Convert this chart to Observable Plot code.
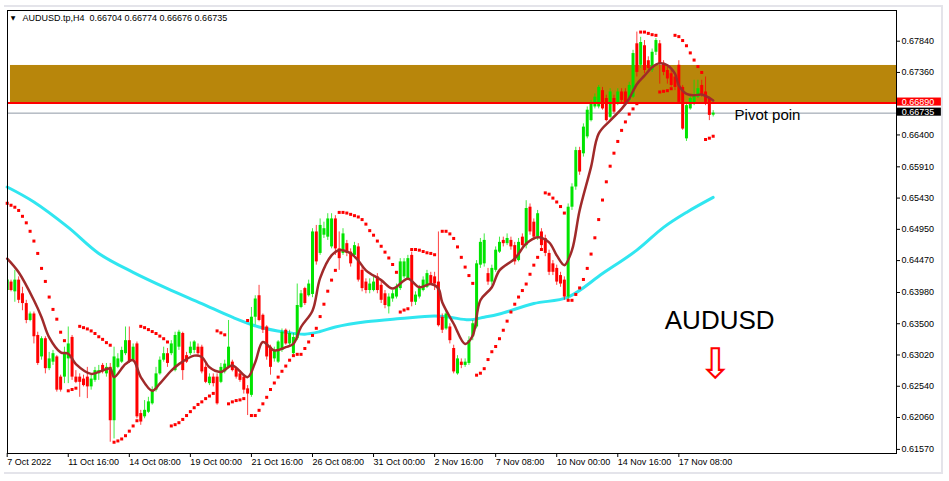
<!DOCTYPE html>
<html><head><meta charset="utf-8">
<script src="https://cdn.jsdelivr.net/npm/d3@7"></script>
<script src="https://cdn.jsdelivr.net/npm/@observablehq/plot@0.6"></script>
<style>
html,body{margin:0;padding:0;background:#fff;}
#wrap{position:relative;width:949px;height:481px;overflow:hidden;background:#fff;}
#frame{position:absolute;left:4px;top:5px;width:937px;height:465px;border-top:2px solid #e4e4ea;border-right:2px solid #e4e4ea;border-bottom:2px solid #e4e4ea;}
#chart{position:absolute;left:0;top:0;}
</style></head><body>
<div id="wrap"><div id="frame"></div><div id="chart"></div></div>
<script>
// ---- data (H4 bars, index 0 = 7 Oct 2022 00:00) ----
const opens = [
.6401,.6414,.6399,.6417,.6396,.6381,.6355,.6365,.6332,.6299,
.6327,.6281,.6291,.6299,.6268,.6268,.6296,.6329,.6268,.6268,
.6265,.6268,.6253,.6263,.6273,.6286,.6273,.6283,.6201,.6283,
.6291,.6304,.6324,.6294,.6319,.6212,.6207,.6214,.6227,.6248,
.6273,.6294,.6304,.6304,.6278,.6314,.6335,.6301,.6304,.6309,
.6314,.6314,.6283,.6258,.6268,.6268,.6260,.6276,.6283,.6291,
.6281,.6273,.6268,.6250,.6240,.6360,.6393,.6363,.6345,.6314,
.6296,.6291,.6309,.6340,.6319,.6304,.6327,.6375,.6404,.6393,
.6395,.6491,.6458,.6486,.6483,.6468,.6511,.6465,.6458,.6473,
.6460,.6455,.6468,.6432,.6414,.6401,.6401,.6422,.6409,.6396,
.6376,.6388,.6391,.6404,.6422,.6419,.6455,.6383,.6391,.6401,
.6406,.6424,.6422,.6414,.6360,.6342,.6345,.6312,.6273,.6291,
.6286,.6289,.6330,.6345,.6440,.6442,.6427,.6414,.6432,.6460,
.6478,.6473,.6478,.6470,.6447,.6483,.6470,.6529,.6506,.6483,
.6491,.6481,.6458,.6442,.6435,.6424,.6417,.6391,.6529,.6560,
.6616,.6611,.6637,.6662,.6683,.6683,.6708,.6696,.6667,.6696,
.6688,.6706,.6706,.6693,.6698,.6780,.6747,.6777,.6754,.6739,
.6767,.6780,.6749,.6739,.6734,.6729,.6747,.6713,.6634,.6680,
.6688,.6698,.6716,.6706,.6696,.66704];
const highs = [
.6422,.6417,.6432,.6422,.6406,.6386,.6368,.6368,.6337,.6330,
.6330,.6306,.6309,.6301,.6271,.6314,.6345,.6332,.6278,.6273,
.6271,.6283,.6271,.6283,.6286,.6289,.6289,.6289,.6314,.6304,
.6314,.6345,.6345,.6319,.6322,.6217,.6232,.6237,.6253,.6283,
.6299,.6314,.6312,.6324,.6337,.6340,.6337,.6306,.6322,.6324,
.6319,.6317,.6289,.6273,.6273,.6273,.6289,.6294,.6355,.6294,
.6283,.6278,.6271,.6255,.6375,.6393,.6409,.6365,.6347,.6317,
.6314,.6324,.6342,.6342,.6340,.6335,.6411,.6401,.6406,.6417,
.6496,.6501,.6511,.6506,.6519,.6519,.6516,.6491,.6496,.6478,
.6465,.6475,.6473,.6437,.6419,.6419,.6422,.6427,.6414,.6401,
.6396,.6401,.6411,.6450,.6450,.6455,.6460,.6399,.6409,.6422,
.6432,.6429,.6429,.6491,.6365,.6370,.6350,.6317,.6301,.6296,
.6296,.6330,.6355,.6447,.6481,.6488,.6435,.6440,.6468,.6483,
.6483,.6488,.6483,.6475,.6481,.6488,.6539,.6534,.6511,.6524,
.6496,.6486,.6463,.6447,.6440,.6429,.6422,.6534,.6565,.6621,
.6621,.6657,.6683,.6693,.6703,.6716,.6713,.6701,.6711,.6701,
.6711,.6711,.6711,.6721,.6770,.6798,.6790,.6785,.6760,.6772,
.6788,.6785,.6754,.6744,.6739,.6734,.6754,.6716,.6690,.6701,
.6724,.6724,.6724,.6729,.6698,.66774];
const lows = [
.6399,.6399,.6383,.6381,.6370,.6350,.6353,.6319,.6286,.6294,
.6273,.6278,.6286,.6245,.6245,.6258,.6258,.6263,.6258,.6237,
.6253,.6235,.6248,.6260,.6263,.6273,.6268,.6168,.6173,.6281,
.6289,.6301,.6289,.6291,.6204,.6194,.6204,.6212,.6225,.6245,
.6271,.6291,.6283,.6301,.6276,.6309,.6263,.6289,.6301,.6304,
.6301,.6273,.6258,.6255,.6253,.6225,.6258,.6273,.6281,.6276,
.6265,.6260,.6242,.6209,.6237,.6348,.6353,.6335,.6294,.6271,
.6291,.6289,.6306,.6317,.6314,.6299,.6324,.6373,.6378,.6391,
.6390,.6440,.6455,.6481,.6478,.6465,.6455,.6432,.6455,.6453,
.6437,.6450,.6414,.6399,.6396,.6396,.6399,.6396,.6381,.6373,
.6365,.6383,.6388,.6401,.6419,.6417,.6376,.6378,.6388,.6399,
.6404,.6409,.6401,.6345,.6335,.6340,.6319,.6273,.6271,.6281,
.6283,.6286,.6324,.6342,.6435,.6437,.6409,.6409,.6429,.6458,
.6468,.6470,.6463,.6440,.6445,.6465,.6465,.6486,.6478,.6478,
.6465,.6453,.6424,.6424,.6409,.6406,.6386,.6386,.6524,.6555,
.6578,.6606,.6634,.6660,.6680,.6680,.6678,.6660,.6665,.6672,
.6685,.6690,.6685,.6690,.6696,.6729,.6742,.6734,.6736,.6736,
.6762,.6718,.6731,.6718,.6713,.6708,.6688,.6647,.6630,.6678,
.6685,.6696,.6698,.6685,.6662,.66676];
const closes = [
.6417,.6401,.6417,.6386,.6381,.6355,.6365,.6330,.6289,.6327,
.6281,.6296,.6304,.6248,.6248,.6304,.6319,.6268,.6260,.6260,
.6255,.6253,.6265,.6278,.6278,.6276,.6283,.6201,.6299,.6296,
.6309,.6324,.6291,.6314,.6207,.6199,.6217,.6230,.6248,.6273,
.6294,.6304,.6289,.6319,.6332,.6337,.6278,.6291,.6314,.6322,
.6304,.6276,.6260,.6268,.6258,.6227,.6283,.6288,.6314,.6278,
.6268,.6263,.6248,.6242,.6360,.6388,.6355,.6340,.6299,.6283,
.6309,.6322,.6337,.6319,.6335,.6329,.6378,.6396,.6381,.6411,
.6491,.6445,.6501,.6496,.6511,.6511,.6465,.6450,.6488,.6458,
.6442,.6470,.6417,.6404,.6401,.6411,.6414,.6401,.6386,.6378,
.6391,.6396,.6406,.6445,.6445,.6450,.6383,.6394,.6404,.6417,
.6427,.6411,.6411,.6347,.6340,.6365,.6324,.6276,.6296,.6286,
.6291,.6324,.6350,.6442,.6475,.6478,.6414,.6435,.6463,.6475,
.6473,.6481,.6468,.6445,.6475,.6470,.6527,.6491,.6483,.6519,
.6470,.6458,.6429,.6429,.6414,.6411,.6391,.6529,.6560,.6616,
.6583,.6652,.6678,.6688,.6698,.6713,.6680,.6662,.6706,.6675,
.6706,.6693,.6688,.6716,.6765,.6736,.6782,.6739,.6742,.6767,
.6785,.6749,.6736,.6726,.6716,.6713,.6690,.6649,.6685,.6696,
.6701,.6711,.6701,.6690,.6670,.66735];
// Parabolic SAR (one per bar, null = no dot)
const sarValues = [
.6535,.6532,.6529,.6524,.6515,.6505,.6492,.6477,.6458,.6435,
.6415,.6391,.6372,.6357,.6337,.6324,.6247,.6249,.6251,.6346,
.6344,.6342,.6339,.6335,.6330,.6326,.6321,.6317,.6168,.6170,
.6173,.6178,.6185,.6193,.6201,.6346,.6344,.6341,.6338,.6335,
.6331,.6327,.6322,.6193,.6195,.6198,.6203,.6209,.6215,.6221,
.6226,.6230,.6235,.6239,.6243,.6339,.6336,.6333,.6227,.6230,
.6232,.6233,.6235,.6355,.6209,.6209,.6217,.6227,.6237,.6249,
.6259,.6268,.6277,.6285,.6294,.6301,.6303,.6303,.6312,.6322,
.6332,.6343,.6361,.6380,.6400,.6417,.6432,.6521,.6521,.6520,
.6518,.6516,.6514,.6510,.6503,.6493,.6486,.6477,.6469,.6460,
.6451,.6441,.6429,.6368,.6371,.6373,.6464,.6464,.6463,.6461,
.6459,.6458,.6456,null,.6492,.6492,.6488,.6481,.6468,.6452,
.6437,.6424,.6412,.6271,.6274,.6281,.6295,.6307,.6315,.6327,
.6340,.6354,.6368,.6380,.6391,.6401,.6411,.6426,.6440,.6452,
.6464,.6551,.6549,.6543,.6537,.6530,.6520,.6386,.6386,.6395,
.6405,.6418,.6435,.6457,.6482,.6510,.6540,.6568,.6592,.6612,
.6630,.6647,.6660,.6672,.6680,.6688,.6798,.6798,.6796,.6794,
.6793,.6706,.6707,.6708,.6711,.6793,.6791,.6785,.6777,.6766,
.6755,.6745,.6736,.6633,.6635,.6638];
// fast moving average (dark red) read at these bars
const fastMaBars = [0,3,7,9,11,14,16,18,22,24,27,28,31,33,35,38,40,43,45,49,51,53,56,59,63,65,67,70,73,75,77,80,82,85,87,90,92,94,98,101,105,108,111,113,114,117,120,122,124,127,129,133,136,139,142,144,146,148,150,153,155,158,161,163,165,167,169,171,173,175,176,178,180,182,184,185];
const fastMaValues = [.6450,.6429,.6386,.6360,.6329,.6306,.6304,.6288,.6273,.6276,.6281,.6268,.6288,.6294,.6268,.6247,.6258,.6278,.6288,.6301,.6299,.6283,.6276,.6286,.6268,.6291,.6322,.6309,.6314,.6319,.6345,.6370,.6420,.6455,.6463,.6458,.6447,.6432,.6417,.6404,.6419,.6406,.6411,.6404,.6383,.6350,.6319,.6332,.6386,.6406,.6432,.6450,.6473,.6483,.6475,.6455,.6440,.6463,.6524,.6591,.6642,.6662,.6680,.6696,.6718,.6731,.6744,.6750,.6747,.6734,.6716,.6703,.6701,.6702,.6697,.6693];
// slow moving average (cyan)
const slowMaBars = [0,7,16,24,33,42,51,59,66,73,78,82,86,94,103,112,116,121,125,129,138,147,156,165,172,178,185];
const slowMaValues = [.6560,.6537,.6498,.6458,.6429,.6404,.6381,.6360,.6345,.6337,.6334,.6338,.6345,.6353,.6358,.6362,.6360,.6356,.6360,.6365,.6381,.6391,.6427,.6463,.6498,.6521,.6544];
// axes
const timeTickBars = [0,16,32,48,64,80,96,112,128,144,160,176];
const timeTickLabels = ["7 Oct 2022","11 Oct 16:00","14 Oct 08:00","19 Oct 00:00","21 Oct 16:00","26 Oct 08:00","31 Oct 00:00","2 Nov 16:00","7 Nov 08:00","10 Nov 00:00","14 Nov 16:00","17 Nov 08:00"];
const priceTicks = [0.6157,0.6206,0.6254,0.6302,0.6350,0.6398,0.6447,0.6495,0.6543,0.6591,0.6640,0.6736,0.6784];
// annotations
const zoneTop = 0.67467, zoneBottom = 0.66890, zoneStartBar = 0.86;
const pivotLevel = 0.66890, bidLevel = 0.66735;
const priceTags = [{label:"0.66890", value:0.66890, fill:"#ff0000"},{label:"0.66735", value:0.66735, fill:"#000000"}];
const header = "AUDUSD.tp,H4  0.66704 0.66774 0.66676 0.66735";
const pivotText = {label:"Pivot poin", bar:190.6, price:0.6671};
const symbolText = {label:"AUDUSD", bar:186.7, price:0.6355};
const arrowText = {label:"\u21E9", bar:185.6, price:0.6287};

// ---- build ----
const GREEN = "#00e400", RED = "#ff0000";
const candles = opens.map((o,i)=>({i, o, h:highs[i], l:lows[i], c:closes[i], up: closes[i] >= o}));
const sar = sarValues.map((v,i)=>({i, v})).filter(d=>d.v!=null);
const fastMa = fastMaBars.map((b,k)=>({i:b, v:fastMaValues[k]}));
const slowMa = slowMaBars.map((b,k)=>({i:b, v:slowMaValues[k]}));
const tickLabel = new Map(timeTickBars.map((b,k)=>[b, timeTickLabels[k]]));
const xMin = 0.0786, xMax = 233.04;
const tagX1 = 233.3, tagX2 = 244.8, tagTextX = 234.4, tagHalf = 0.00062, tagShift = 0.00015;

const chart = Plot.plot({
  width: 949, height: 481,
  marginLeft: 7, marginRight: 53, marginTop: 10, marginBottom: 28,
  x: {domain: [xMin, xMax], label: null},
  y: {domain: [0.615069, 0.683114], label: null},
  style: {fontFamily: "'Liberation Sans', Arial, sans-serif", fontSize: "9px", background: "transparent", overflow: "visible", color: "#000"},
  marks: [
    Plot.rect([0], {x1: zoneStartBar, x2: xMax, y1: zoneBottom, y2: zoneTop, fill: "#b8860b"}),
    Plot.ruleY([bidLevel], {x1: xMin, x2: xMax, stroke: "#8e98a4", strokeWidth: 1}),
    Plot.line(slowMa, {x: "i", y: "v", stroke: "#30e6f0", strokeWidth: 3, curve: "catmull-rom"}),
    Plot.ruleX(candles, {x: "i", y1: "l", y2: "h", stroke: d => d.up ? GREEN : RED, strokeWidth: 1, strokeOpacity: 0.75, clip: true}),
    Plot.ruleX(candles, {x: "i", y1: "o", y2: "c", stroke: d => d.up ? GREEN : RED, strokeWidth: 3, clip: true}),
    Plot.ruleY([pivotLevel], {x1: xMin, x2: xMax, stroke: "#ff0000", strokeWidth: 2}),
    Plot.line(fastMa, {x: "i", y: "v", stroke: "#a02a2a", strokeWidth: 2.5, curve: "catmull-rom"}),
    Plot.dot(sar, {x: "i", y: "v", r: 1.7, symbol: "square", fill: "#ff0000"}),
    Plot.text([pivotText], {x: "bar", y: "price", text: "label", textAnchor: "start", fontSize: 15, fill: "#000"}),
    Plot.text([symbolText], {x: "bar", y: "price", text: "label", textAnchor: "middle", fontSize: 26, fill: "#000"}),
    Plot.text([arrowText], {x: "bar", y: "price", text: "label", textAnchor: "middle", fontSize: 42, fill: "#ff0000", fontFamily: "DejaVu Sans"}),
    Plot.frame({stroke: "#000", strokeWidth: 1}),
    Plot.axisX({ticks: timeTickBars, tickFormat: d => tickLabel.get(d), tickSize: 4, tickPadding: 1, textAnchor: "start", fontSize: 9, fill: "#000", stroke: "#000"}),
    Plot.axisY({anchor: "right", ticks: priceTicks, tickFormat: d3.format(".5f"), tickSize: 3, tickPadding: 2, fontSize: 9, fill: "#000", stroke: "#000"}),
    Plot.rect(priceTags, {x1: tagX1, x2: tagX2, y1: d => d.value + tagShift - tagHalf, y2: d => d.value + tagShift + tagHalf, fill: "fill"}),
    Plot.text(priceTags, {x: tagTextX, y: d => d.value + tagShift, text: "label", textAnchor: "start", fill: "#fff", fontSize: 9}),
    Plot.text([header], {frameAnchor: "top-left", dx: 15, dy: 7.5, lineAnchor: "middle", textAnchor: "start", fontSize: 9, fill: "#000"}),
    Plot.text(["\u25BC"], {frameAnchor: "top-left", dx: 5.5, dy: 7.5, lineAnchor: "middle", textAnchor: "middle", fontSize: 6, fill: "#000", fontFamily: "DejaVu Sans"})
  ]
});
document.getElementById("chart").append(chart);
</script>
</body></html>
